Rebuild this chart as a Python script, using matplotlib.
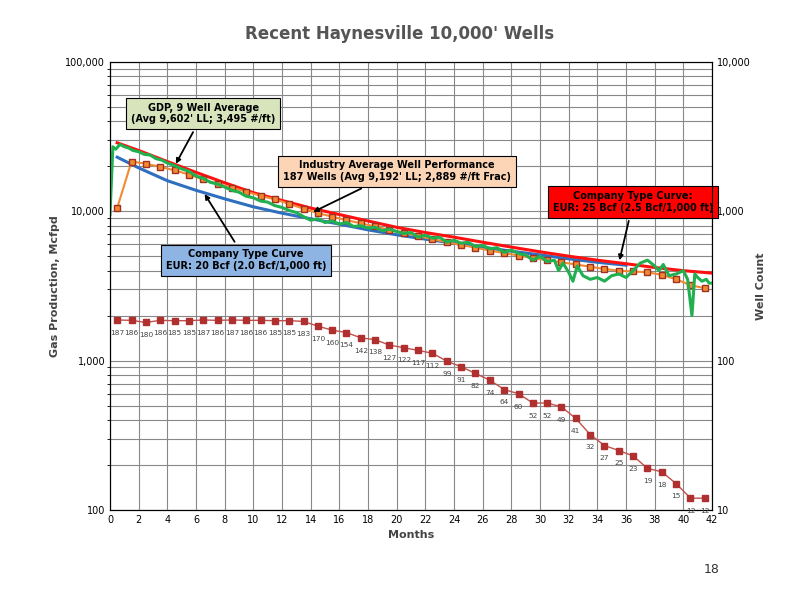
import numpy as np
import matplotlib.pyplot as plt
from matplotlib.ticker import FixedLocator, NullFormatter

# well counts (right axis) at mid-month
well_months = [m + 0.5 for m in range(42)]
well_counts = [187, 186, 180, 186, 185, 185, 187, 186, 187, 186, 186, 185, 185, 183,
               170, 160, 154, 142, 138, 127, 122, 117, 112, 99, 91, 82, 74, 64, 60,
               52, 52, 49, 41, 32, 27, 25, 23, 19, 18, 15, 12, 12]

# industry average (orange squares)
ind_months = [0.5, 1.5, 2.5, 3.5, 4.5, 5.5, 6.5, 7.5, 8.5, 9.5, 10.5, 11.5, 12.5, 13.5,
              14.5, 15.5, 16.5, 17.5, 18.5, 19.5, 20.5, 21.5, 22.5, 23.5, 24.5, 25.5,
              26.5, 27.5, 28.5, 29.5, 30.5, 31.5, 32.5, 33.5, 34.5, 35.5, 36.5, 37.5,
              38.5, 39.5, 40.5, 41.5]
ind_rate = [10500, 21500, 20800, 19800, 18800, 17600, 16300, 15300, 14400, 13500, 12700,
            12000, 11200, 10400, 9700, 9200, 8700, 8300, 7900, 7500, 7200, 6800, 6500,
            6200, 5950, 5700, 5450, 5250, 5050, 4850, 4700, 4550, 4400, 4250, 4100,
            4000, 3950, 3900, 3750, 3500, 3200, 3050]

# company type curves
red_months = [0.5, 2, 4, 6, 8, 10, 12, 14, 16, 18, 20, 22, 24, 26, 28, 30, 32, 34, 36, 38, 40, 42]
red_rate = [28700, 25500, 21500, 18200, 15500, 13300, 11800, 10500, 9500, 8600, 7800,
            7200, 6700, 6200, 5750, 5350, 5000, 4700, 4450, 4200, 4000, 3850]
blue_months = [0.5, 2, 4, 6, 8, 10, 12, 14, 16, 18, 20, 22, 24, 26, 28, 30, 32, 34, 36]
blue_rate = [23000, 19500, 16000, 13800, 12100, 10700, 9700, 8900, 8200, 7500, 6950,
             6500, 6100, 5750, 5400, 5100, 4800, 4550, 4350]

# GDP 9 well average (green, noisy)
gdp_months = [0, 0.2, 0.4, 0.7, 1, 1.3, 1.6, 2, 2.4, 2.8, 3.2, 3.6, 4, 4.5, 5, 5.5, 6, 6.5, 7,
              7.5, 8, 8.5, 9, 9.5, 10, 10.5, 11, 11.5, 12, 12.5, 13, 13.5, 14, 14.5, 15,
              15.5, 16, 16.5, 17, 17.5, 18, 18.5, 19, 19.5, 20, 20.5, 21, 21.5, 22, 22.5,
              23, 23.5, 24, 24.5, 25, 25.5, 26, 26.5, 27, 27.5, 28, 28.5, 29, 29.5, 30,
              30.5, 31, 31.3, 31.6, 32, 32.3, 32.6, 33, 33.5, 34, 34.5, 35, 35.5, 36, 36.5,
              37, 37.5, 38, 38.3, 38.6, 39, 39.5, 40, 40.3, 40.6, 40.8, 41, 41.3, 41.6, 41.8, 42]
gdp_rate = [9500, 27000, 26000, 28000, 27000, 26500, 25500, 25000, 24000, 23800, 22500,
            22000, 21000, 20200, 19200, 18500, 17200, 16600, 15600, 15200, 14500, 13800,
            13400, 12600, 12300, 11700, 11500, 10900, 10600, 10100, 9800, 9200, 8700, 8900,
            8400, 8600, 8200, 8400, 7900, 8000, 7700, 7800, 7400, 7600, 7300, 7100, 7200,
            6700, 6900, 6600, 6700, 6200, 6400, 6100, 6200, 5800, 5900, 5600, 5700, 5300,
            5500, 5200, 5100, 4700, 5000, 4600, 4700, 4000, 4500, 3900, 3400, 4300, 3700,
            3500, 3600, 3400, 3700, 3800, 3600, 4000, 4500, 4700, 4300, 4000, 4400, 3700,
            3800, 4000, 3500, 2000, 3800, 3600, 3400, 3500, 3300, 3300]

fig = plt.figure(figsize=(8, 6), dpi=100)
ax = fig.add_axes([0.1375, 0.15, 0.7525, 0.747])
ax.set_yscale('log')
ax.set_ylim(100, 100000)
ax.set_xlim(0, 42)
ax.set_xticks(range(0, 43, 2))
ax.xaxis.set_minor_locator(FixedLocator(range(0, 43, 2)))
ax.grid(True, which='both', color='#888888', linewidth=0.8)
ax.set_axisbelow(True)
ax.set_yticks([100, 1000, 10000, 100000])
ax.set_yticklabels(['100', '1,000', '10,000', '100,000'])
ax.yaxis.set_minor_formatter(NullFormatter())
ax.tick_params(labelsize=7, length=0)
ax.set_xlabel('Months', fontsize=8, fontweight='bold', color='#444444')
ax.set_ylabel('Gas Production, Mcfpd', fontsize=8, fontweight='bold', color='#444444')

ax.plot(blue_months, blue_rate, color='#2f6fbf', lw=2.2, zorder=3)
ax.plot(red_months, red_rate, color='#ff1010', lw=2.2, zorder=3)
ax.plot(ind_months, ind_rate, color='#f28a30', lw=1.5, marker='s', ms=4.5,
        mfc='#f28a30', mec='#a03020', zorder=4)
ax.plot(gdp_months, gdp_rate, color='#20b050', lw=2.2, zorder=5)

ax2 = ax.twinx()
ax2.set_yscale('log')
ax2.set_ylim(10, 10000)
ax2.set_yticks([10, 100, 1000, 10000])
ax2.set_yticklabels(['10', '100', '1,000', '10,000'])
ax2.yaxis.set_minor_formatter(NullFormatter())
ax2.tick_params(labelsize=7, length=0, which='both')
ax2.set_ylabel('Well Count', fontsize=8, fontweight='bold', color='#444444')
ax2.plot(well_months, well_counts, color='#c0504d', lw=1, marker='s', ms=4.5,
         mfc='#b03030', mec='#b03030')
for m, c in zip(well_months, well_counts):
    ax2.text(m, c * 0.86, str(c), fontsize=5.3, color='#444444', ha='center', va='top')

fig.text(0.5, 0.935, "Recent Haynesville 10,000' Wells", ha='center', fontsize=12,
         fontweight='bold', color='#555555')
fig.text(0.88, 0.045, '18', fontsize=9, color='#333333')

def box(x, y, txt, fc, tx, ty, tc='black'):
    ax.annotate(txt, xy=(tx, ty), xytext=(x, y), fontsize=7, fontweight='bold', color=tc,
                ha='center', va='center', zorder=10,
                bbox=dict(boxstyle='square,pad=0.5', fc=fc, ec='black', lw=0.8),
                arrowprops=dict(arrowstyle='-|>', color='black', lw=1.3))

box(6.5, 45000, "GDP, 9 Well Average\n(Avg 9,602' LL; 3,495 #/ft)", '#d8e4bc', 4.5, 20000)
box(20, 18500, "Industry Average Well Performance\n187 Wells (Avg 9,192' LL; 2,889 #/ft Frac)",
    '#fbd5b5', 14, 9700)
box(36.5, 11500, "Company Type Curve:\nEUR: 25 Bcf (2.5 Bcf/1,000 ft)", '#ff0000', 35.5, 4500,
    tc='black')
box(9.5, 4700, "Company Type Curve\nEUR: 20 Bcf (2.0 Bcf/1,000 ft)", '#8db4e2', 6.5, 13500)

fig.savefig('out.png', dpi=100)
